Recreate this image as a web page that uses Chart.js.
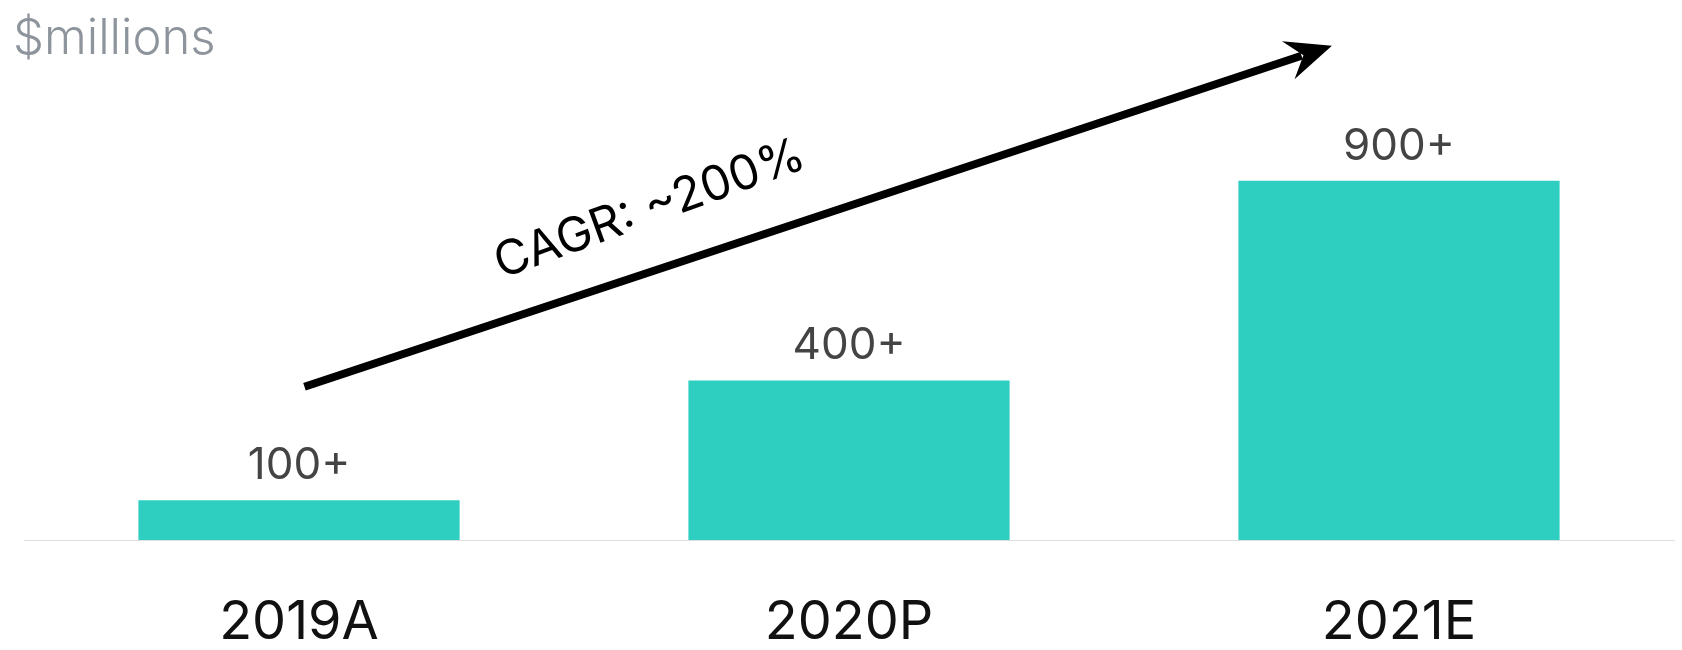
<!DOCTYPE html>
<html>
<head>
<meta charset="utf-8">
<title>Revenue growth</title>
<script src="https://cdn.jsdelivr.net/npm/chart.js@4"></script>
<style>
  html, body { margin: 0; padding: 0; background: #fff; }
  canvas { display: block; }
</style>
</head>
<body>
<canvas id="revenueChart" width="1682" height="650"></canvas>
<script>
// data
const years = ['2019A', '2020P', '2021E'];
const revenue = [100, 402, 905];
const revenueLabels = ['100+', '400+', '900+'];
const unitLabel = '$millions';
const growthLabel = 'CAGR: ~200%';

// arrow ends, in (category index, value) units
const arrowFrom = [0.01, 386];
const arrowTo = [1.878, 1245];

const FONT = 'Inter, "Liberation Sans", Arial, sans-serif';

// draws the unit caption, value labels and the growth arrow
const annotations = {
    id: 'annotations',
    afterDatasetsDraw(chart) {
        const ctx = chart.ctx;
        const x = chart.scales.x;
        const y = chart.scales.y;

        ctx.save();

        // unit caption
        ctx.fillStyle = '#8e949c';
        ctx.font = '300 49px ' + FONT;
        ctx.textAlign = 'left';
        ctx.textBaseline = 'alphabetic';
        ctx.fillText(unitLabel, 13, 54);

        // value labels above bars
        ctx.fillStyle = '#444444';
        ctx.font = '400 44px ' + FONT;
        ctx.textAlign = 'center';
        chart.getDatasetMeta(0).data.forEach((bar, i) => {
            ctx.fillText(revenueLabels[i], bar.x, bar.y - 21);
        });

        // growth arrow
        const x0 = x.getPixelForValue(arrowFrom[0]);
        const y0 = y.getPixelForValue(arrowFrom[1]);
        const x1 = x.getPixelForValue(arrowTo[0]);
        const y1 = y.getPixelForValue(arrowTo[1]);
        const ang = Math.atan2(y1 - y0, x1 - x0);
        const ux = Math.cos(ang), uy = Math.sin(ang);
        const nx = -uy, ny = ux;
        const headLen = 46, headHalf = 20, notch = 30;

        ctx.strokeStyle = '#000';
        ctx.lineWidth = 8;
        ctx.beginPath();
        ctx.moveTo(x0, y0);
        ctx.lineTo(x1 - ux * (notch + 2), y1 - uy * (notch + 2));
        ctx.stroke();

        ctx.fillStyle = '#000';
        ctx.beginPath();
        ctx.moveTo(x1, y1);
        ctx.lineTo(x1 - ux * headLen + nx * headHalf, y1 - uy * headLen + ny * headHalf);
        ctx.lineTo(x1 - ux * notch, y1 - uy * notch);
        ctx.lineTo(x1 - ux * headLen - nx * headHalf, y1 - uy * headLen - ny * headHalf);
        ctx.closePath();
        ctx.fill();

        // CAGR text along the arrow
        ctx.translate(649, 207);
        ctx.rotate(-20 * Math.PI / 180);
        ctx.fillStyle = '#000';
        ctx.font = '400 48px ' + FONT;
        ctx.textAlign = 'center';
        ctx.textBaseline = 'alphabetic';
        ctx.fillText(growthLabel, 0, 17);

        ctx.restore();
    }
};

new Chart(document.getElementById('revenueChart'), {
    type: 'bar',
    data: {
        labels: years,
        datasets: [{
            data: revenue,
            backgroundColor: '#2ecfc1',
            categoryPercentage: 1,
            barPercentage: 0.584
        }]
    },
    options: {
        responsive: false,
        animation: false,
        events: [],
        layout: { padding: { top: 143, left: 24, right: 8, bottom: 0 } },
        plugins: {
            legend: { display: false },
            tooltip: { enabled: false }
        },
        scales: {
            x: {
                grid: { display: false },
                border: { display: true, color: '#dedede', width: 1 },
                ticks: {
                    color: '#111',
                    font: { family: FONT, size: 54, weight: '400' },
                    padding: 42
                },
                afterFit(scale) {
                    scale.height = 110;
                }
            },
            y: {
                display: false,
                min: 0,
                max: 1000
            }
        }
    },
    plugins: [annotations]
});
</script>
</body>
</html>
